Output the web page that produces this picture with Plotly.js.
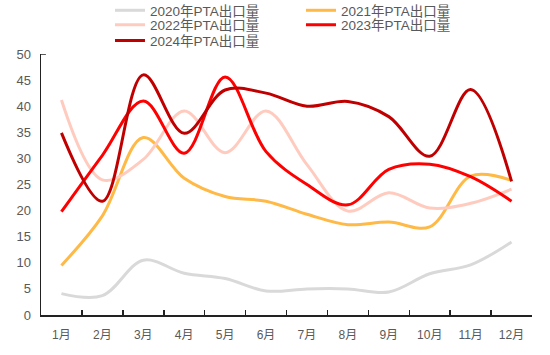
<!DOCTYPE html>
<html>
<head>
<meta charset="utf-8">
<script src="https://cdn.plot.ly/plotly-3.0.1.min.js"></script>
<style>html,body{margin:0;padding:0;background:#fff}#chart{width:550px;height:355px}</style>
</head>
<body>
<div id="chart"></div>
<script>
const months = ['1月','2月','3月','4月','5月','6月','7月','8月','9月','10月','11月','12月'];
const seriesNames = ['2020年PTA出口量','2021年PTA出口量','2022年PTA出口量','2023年PTA出口量','2024年PTA出口量'];
const v2020 = [4.1, 3.7, 10.5, 8.0, 7.0, 4.6, 5.0, 5.0, 4.4, 7.9, 9.6, 14.0];
const v2021 = [9.5, 19.0, 34.0, 26.2, 22.7, 21.8, 19.3, 17.3, 17.8, 16.9, 26.6, 25.8];
const v2022 = [41.2, 25.9, 29.8, 39.1, 31.1, 39.1, 28.8, 19.9, 23.4, 20.5, 21.4, 24.1];
const v2023 = [19.8, 30.6, 41.0, 31.0, 45.6, 31.3, 25.0, 21.1, 27.9, 28.9, 26.5, 21.8];
const v2024 = [34.9, 21.8, 46.0, 34.8, 43.1, 42.5, 40.0, 40.9, 38.0, 30.4, 43.2, 25.6];
const seriesValues = [v2020, v2021, v2022, v2023, v2024];
const colors = ['#d9d9d9', '#ffb946', '#ffcbbf', '#ff0000', '#c00000'];
const legendIds = ['legend', 'legend', 'legend2', 'legend2', 'legend3'];

const traces = seriesValues.map((vals, i) => ({
  type: 'scatter', mode: 'lines', x: months, y: vals, name: seriesNames[i],
  line: {color: colors[i], width: 3, shape: 'spline', smoothing: 1},
  legend: legendIds[i], hoverinfo: 'skip'
}));

const legFont = {family: 'Liberation Sans, Arial, Noto Sans CJK SC, sans-serif', size: 13.5, color: '#595959'};
const legBase = {orientation: 'h', x: 0.1405, xanchor: 'left', yanchor: 'middle', yref: 'container',
  entrywidth: 146, entrywidthmode: 'pixels', font: legFont, bgcolor: 'rgba(0,0,0,0)',
  traceorder: 'normal', itemwidth: 30};

const layout = {
  width: 550, height: 355,
  margin: {l: 41, r: 18, t: 54, b: 40, autoexpand: false},
  paper_bgcolor: '#fff', plot_bgcolor: '#fff',
  showlegend: true,
  legend: Object.assign({}, legBase, {y: 0.9704}),
  legend2: Object.assign({}, legBase, {y: 0.9296}),
  legend3: Object.assign({}, legBase, {y: 0.8853}),
  xaxis: {
    type: 'category', range: [-0.5, 11.5], showgrid: false, zeroline: false,
    showline: true, linecolor: '#222', linewidth: 1.5,
    ticks: 'inside', ticklen: 5, tickcolor: '#222', tickwidth: 1.5, tickson: 'boundaries',
    tickfont: {family: 'Liberation Sans, Arial, Noto Sans CJK SC, sans-serif', size: 12, color: '#595959'},
    ticklabelstandoff: 8
  },
  yaxis: {
    range: [0, 50], dtick: 5, tick0: 0, showgrid: false, zeroline: false,
    showline: true, linecolor: '#222', linewidth: 1.5, ticks: '',
    tickfont: {family: 'Liberation Sans, Arial, sans-serif', size: 13, color: '#595959'},
    ticklabelstandoff: 6
  },
  shapes: [{type: 'line', xref: 'paper', yref: 'y', x0: 0, x1: 0.01, y0: 50, y1: 50,
    line: {color: '#222', width: 1.5}}]
};

Plotly.newPlot('chart', traces, layout, {displayModeBar: false, staticPlot: true});
</script>
</body>
</html>
